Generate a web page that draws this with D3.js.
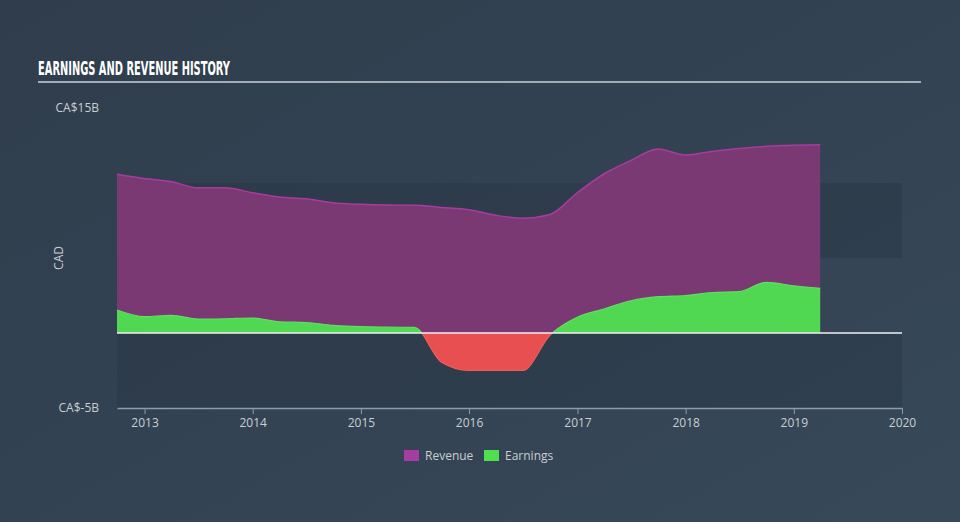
<!DOCTYPE html>
<html><head><meta charset="utf-8">
<script src="https://cdn.jsdelivr.net/npm/d3@7"></script>
<style>
html,body{margin:0;padding:0;background:#334353;}
svg{display:block;}
</style></head>
<body>
<svg id="c" width="960" height="522"></svg>
<script>
const quarters = ["2012-09-30","2012-12-31","2013-03-31","2013-06-30","2013-09-30","2013-12-31",
"2014-03-31","2014-06-30","2014-09-30","2014-12-31","2015-03-31","2015-06-30","2015-09-30",
"2015-12-31","2016-03-31","2016-06-30","2016-09-30","2016-12-31","2017-03-31","2017-06-30",
"2017-09-30","2017-12-31","2018-03-31","2018-06-30","2018-09-30","2018-12-31","2019-03-31"];
const revenue = [10.58,10.3,10.1,9.68,9.68,9.35,9.07,8.95,8.69,8.58,8.53,8.52,8.37,8.22,7.85,7.65,7.9,9.35,10.6,11.5,12.27,11.87,12.1,12.3,12.45,12.52,12.55];
const earnings = [1.53,1.09,1.18,0.93,0.95,1.0,0.75,0.7,0.51,0.42,0.39,0.38,-1.95,-2.5,-2.5,-2.5,-0.15,1.05,1.6,2.15,2.42,2.5,2.7,2.76,3.38,3.15,2.98];
const yTicks = [15, -5];
const yTickLabels = ["CA$15B", "CA$-5B"];
const xTickYears = [2013,2014,2015,2016,2017,2018,2019,2020];
const seriesNames = ["Revenue","Earnings"];

const parse = d3.timeParse("%Y-%m-%d");
const dates = quarters.map(parse);

const svg = d3.select("#c");
const W = 960, H = 522;
const L = 117, R = 902, T = 108, B = 408;

const defs = svg.append("defs");
const g = defs.append("linearGradient").attr("id","bg").attr("x1","0").attr("y1","0").attr("x2","1").attr("y2","1");
g.append("stop").attr("offset","0").attr("stop-color","#2f3d4c");
g.append("stop").attr("offset","1").attr("stop-color","#374859");
svg.append("rect").attr("width",W).attr("height",H).attr("fill","url(#bg)");

const x = d3.scaleTime().domain([parse("2012-09-30"), parse("2020-01-01")]).range([L, R]);
const y = d3.scaleLinear().domain([-5, 15]).range([B, T]);

[[10,5],[0,-5]].forEach(([a,b])=>{
  svg.append("rect").attr("x",L).attr("width",R-L).attr("y",y(a)).attr("height",y(b)-y(a))
    .attr("fill","#26323f").attr("opacity",0.35);
});

svg.append("text").attr("x",38).attr("y",75).text("EARNINGS AND REVENUE HISTORY")
  .attr("font-family","'Liberation Sans Narrow','DejaVu Sans Condensed',sans-serif")
  .attr("font-weight","bold").attr("font-size",20).attr("fill","#ffffff")
  .attr("textLength",192).attr("lengthAdjust","spacingAndGlyphs");
svg.append("line").attr("x1",38).attr("x2",921).attr("y1",82).attr("y2",82)
  .attr("stroke","#a3adb7").attr("stroke-width",2);

defs.append("clipPath").attr("id","above").append("rect").attr("x",0).attr("y",0).attr("width",W).attr("height",y(0));
defs.append("clipPath").attr("id","below").append("rect").attr("x",0).attr("y",y(0)).attr("width",W).attr("height",H-y(0));

const curve = d3.curveMonotoneX;
const revData = dates.map((d,i)=>({d, v: revenue[i]}));
const earnData = dates.map((d,i)=>({d, v: earnings[i]}));

const area = d3.area().x(p=>x(p.d)).y0(y(0)).y1(p=>y(p.v)).curve(curve);
const line = d3.line().x(p=>x(p.d)).y(p=>y(p.v)).curve(curve);

svg.append("path").datum(revData).attr("d",area).attr("fill","#7b3974");
svg.append("path").datum(revData).attr("d",line).attr("fill","none").attr("stroke","#a53d9e").attr("stroke-width",1.5);

svg.append("path").datum(earnData).attr("d",area).attr("fill","#50d853").attr("clip-path","url(#above)");
svg.append("path").datum(earnData).attr("d",area).attr("fill","#e84f50").attr("clip-path","url(#below)");
svg.append("path").datum(earnData).attr("d",line).attr("fill","none").attr("stroke","#5fe060").attr("stroke-width",1.2).attr("clip-path","url(#above)");
svg.append("path").datum(earnData).attr("d",line).attr("fill","none").attr("stroke","#f25c5c").attr("stroke-width",1.2).attr("clip-path","url(#below)");

svg.append("line").attr("x1",L).attr("x2",R).attr("y1",y(0)).attr("y2",y(0)).attr("stroke","#eef0f2").attr("stroke-width",1.5);

const xAxis = d3.axisBottom(x)
  .tickValues(xTickYears.map(yr=>new Date(yr,0,1)))
  .tickFormat(d3.timeFormat("%Y")).tickSize(6).tickSizeOuter(0);
const xg = svg.append("g").attr("transform",`translate(0,${B})`).call(xAxis);
xg.select(".domain").attr("stroke","#8d9cac").attr("stroke-width",1.5);
xg.selectAll(".tick line").attr("stroke","#8d9cac");
xg.selectAll(".tick text").attr("fill","#c9ced4").attr("font-size",12)
  .attr("font-family","'Open Sans',sans-serif").attr("dy","0.95em").attr("y",8);

const yAxis = d3.axisLeft(y).tickValues(yTicks).tickFormat((d,i)=>yTickLabels[i]).tickSize(0);
const yg = svg.append("g").attr("transform",`translate(${L-15},0)`).call(yAxis);
yg.select(".domain").remove();
yg.selectAll(".tick text").attr("fill","#c9ced4").attr("font-size",12)
  .attr("font-family","'Open Sans',sans-serif");

svg.append("text").attr("transform",`translate(63,${(T+B)/2}) rotate(-90)`)
  .attr("text-anchor","middle").text("CAD").attr("fill","#c9ced4").attr("font-size",12)
  .attr("font-family","'Open Sans',sans-serif");

const legColors = ["#a63da0","#4fe050"];
const legX = [404, 484];
seriesNames.forEach((n,i)=>{
  svg.append("rect").attr("x",legX[i]).attr("y",450).attr("width",15).attr("height",11).attr("fill",legColors[i]);
  svg.append("text").attr("x",legX[i]+21).attr("y",460).text(n).attr("fill","#c9ced4")
    .attr("font-size",12).attr("font-family","'Open Sans',sans-serif");
});
</script>
</body></html>
